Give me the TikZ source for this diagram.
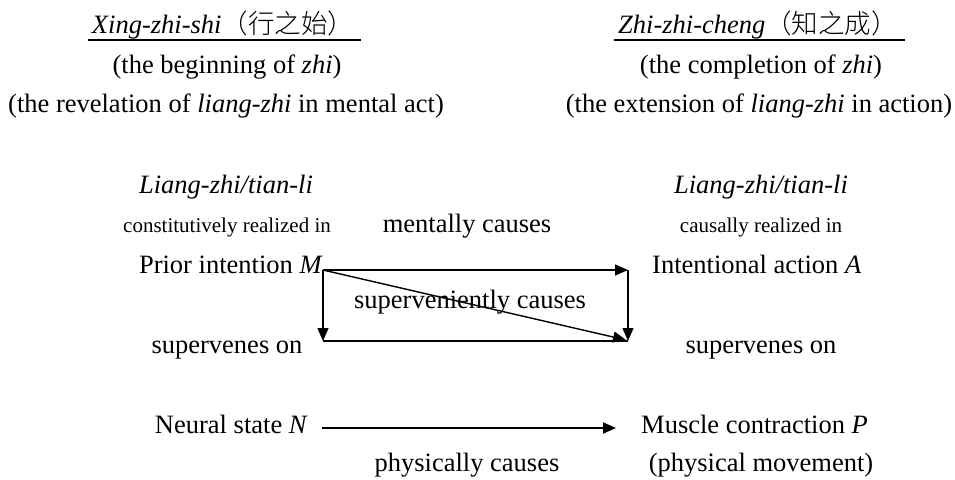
\documentclass[tikz,border=0pt]{standalone}
\usepackage{fontspec}
\setmainfont{Liberation Serif}
\newfontfamily\cjk{Noto Sans CJK SC Light}
\usetikzlibrary{arrows.meta}
\tikzset{
  big/.style={inner sep=0pt, font=\fontsize{26.5}{30}\selectfont},
  small/.style={inner sep=0pt, font=\fontsize{21}{24}\selectfont},
  conn/.style={line width=1.4pt},
  arr/.style={conn, -{Triangle[length=13pt,width=11pt]}},
  uline/.style={line width=1.5pt}
}
\begin{document}
\begin{tikzpicture}[x=1pt,y=-1pt]
\useasboundingbox (0,0) rectangle (955,479);
% titles
\node[big, anchor=base] (tL) at (223,33) {\textit{Xing-zhi-shi}{\cjk（行之始）}};
\node[big, anchor=base] (tR) at (758,33) {\textit{Zhi-zhi-cheng}{\cjk（知之成）}};
\draw[uline] ([yshift=-7pt,xshift=-4pt]tL.base west) -- ([yshift=-7pt,xshift=7pt]tL.base east);
\draw[uline] ([yshift=-7pt,xshift=-4pt]tR.base west) -- ([yshift=-7pt,xshift=7pt]tR.base east);
\node[big, anchor=base] (bL) at (227,73) {(the beginning of \textit{zhi})};
\node[big, anchor=base] (bR) at (761,73) {(the completion of \textit{zhi})};
\node[big, anchor=base] (rL) at (226,112) {(the revelation of \textit{liang-zhi} in mental act)};
\node[big, anchor=base] (rR) at (759,112) {(the extension of \textit{liang-zhi} in action)};
% middle
\node[big, anchor=base] (lzL) at (226,193) {\textit{Liang-zhi/tian-li}};
\node[big, anchor=base] (lzR) at (761,193) {\textit{Liang-zhi/tian-li}};
\node[small, anchor=base] (cL) at (227,232) {constitutively realized in};
\node[big, anchor=base] (mc) at (467,232) {mentally causes};
\node[small, anchor=base] (cR) at (761,232) {causally realized in};
\node[big, anchor=base east] (prior) at (323,273) {Prior intention \textit{M}};
\node[big, anchor=base west] (act) at (652,273) {Intentional action \textit{A}};
\node[big, anchor=base] (sc) at (470,308) {superveniently causes};
\node[big, anchor=base] (svL) at (227,353) {supervenes on};
\node[big, anchor=base] (svR) at (761,353) {supervenes on};
% bottom
\node[big, anchor=base east] (neural) at (308,433) {Neural state \textit{N}};
\node[big, anchor=base west] (muscle) at (641,433) {Muscle contraction \textit{P}};
\node[big, anchor=base] (pc) at (467,471) {physically causes};
\node[big, anchor=base] (pm) at (761,471) {(physical movement)};
% box
\coordinate (tl) at (323,270);
\coordinate (tr) at (628,270);
\coordinate (bl) at (323,341);
\coordinate (br) at (628,341);
\draw[arr] (tl) -- (tr);
\draw[arr] (tl) -- (bl);
\draw[arr] (tr) -- (br);
\draw[conn] (bl) -- (br);
\draw[arr] (tl) -- ([xshift=-2pt,yshift=1pt]br);
\draw[arr, line width=1.8pt] ([shift={(14pt,5pt)}]neural.base east) -- ([shift={(-25pt,5pt)}]muscle.base west);
\end{tikzpicture}
\end{document}
